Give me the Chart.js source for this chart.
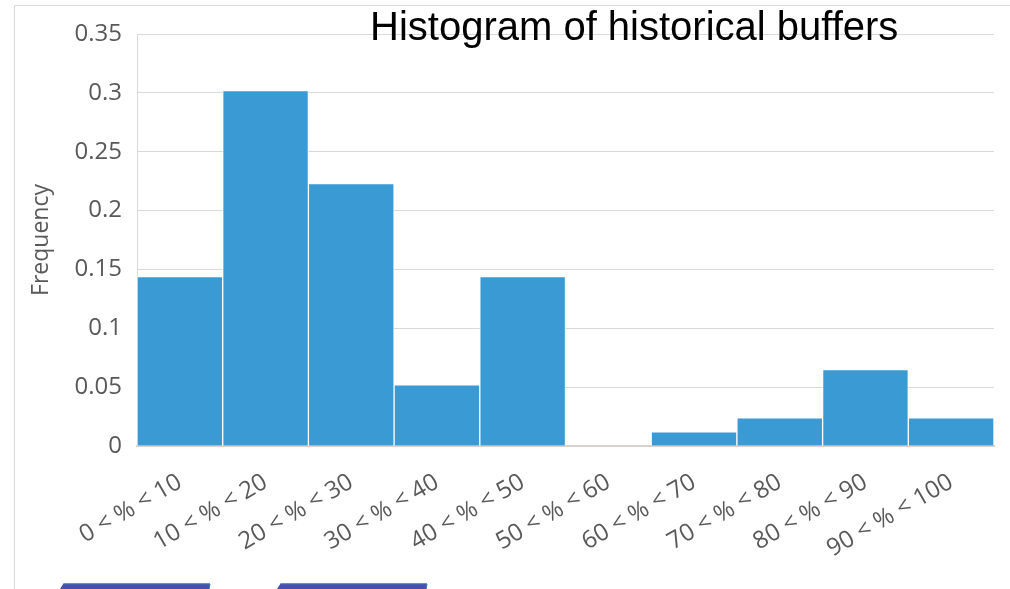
<!DOCTYPE html>
<html>
<head>
<meta charset="utf-8">
<script src="https://cdn.jsdelivr.net/npm/chart.js@4"></script>
<style>
  html, body { margin: 0; padding: 0; background: #ffffff; }
  #wrap { width: 1010px; height: 589px; position: relative; }
</style>
</head>
<body>
<div id="wrap"><canvas id="c" width="1010" height="589"></canvas></div>
<script>
const categories = ['0 < % < 10', '10 < % < 20', '20 < % < 30', '30 < % < 40', '40 < % < 50',
                    '50 < % < 60', '60 < % < 70', '70 < % < 80', '80 < % < 90', '90 < % < 100'];
const frequency = [0.144, 0.302, 0.223, 0.052, 0.144, 0, 0.012, 0.024, 0.065, 0.024];
const yTickLabels = ['0', '0.05', '0.1', '0.15', '0.2', '0.25', '0.3', '0.35'];
const chartTitle = 'Histogram of historical buffers';
const yAxisTitle = 'Frequency';

const decor = {
  id: 'decor',
  beforeDraw(chart) {
    const ctx = chart.ctx;
    ctx.save();
    ctx.fillStyle = '#ffffff';
    ctx.fillRect(0, 0, chart.width, chart.height);
    ctx.strokeStyle = '#d9d9d9';
    ctx.lineWidth = 1;
    ctx.beginPath();
    ctx.moveTo(14.5, 589);
    ctx.lineTo(14.5, 5.5);
    ctx.lineTo(1010, 5.5);
    ctx.stroke();
    ctx.restore();
  },
  afterDraw(chart) {
    const ctx = chart.ctx;
    ctx.save();
    ctx.font = '40px "Liberation Sans", Arial, sans-serif';
    ctx.fillStyle = '#000000';
    ctx.textAlign = 'left';
    ctx.textBaseline = 'alphabetic';
    ctx.fillText(chartTitle, 370, 40);
    // cropped blue shapes at the bottom edge
    const shapes = [[60, 210], [277, 427]];
    shapes.forEach(([a, b]) => {
      ctx.fillStyle = '#4750b2';
      ctx.beginPath();
      ctx.moveTo(a, 589);
      ctx.lineTo(a + 3.5, 583.5);
      ctx.lineTo(b, 583.5);
      ctx.lineTo(b - 1, 589);
      ctx.closePath();
      ctx.fill();
      ctx.strokeStyle = '#3d72a6';
      ctx.lineWidth = 1;
      ctx.beginPath();
      ctx.moveTo(a + 3.5, 584);
      ctx.lineTo(b, 584);
      ctx.lineTo(b - 1, 589);
      ctx.stroke();
    });
    ctx.restore();
  }
};

new Chart(document.getElementById('c'), {
  type: 'bar',
  data: {
    labels: categories,
    datasets: [{
      label: yAxisTitle,
      data: frequency,
      backgroundColor: '#3a9ad4',
      borderColor: 'rgba(255,255,255,0.85)',
      borderWidth: 1,
      borderSkipped: 'start',
      barPercentage: 1,
      categoryPercentage: 1
    }]
  },
  options: {
    responsive: false,
    animation: false,
    devicePixelRatio: 1,
    layout: { padding: { left: 0, top: 34, right: 16, bottom: 0 } },
    plugins: {
      legend: { display: false },
      title: { display: false },
      tooltip: { enabled: false }
    },
    scales: {
      x: {
        grid: { display: false, drawTicks: false },
        border: { display: true, color: '#d6d2cf', width: 2 },
        ticks: {
          autoSkip: false,
          maxRotation: 30,
          minRotation: 30,
          padding: 22,
          color: '#595959',
          font: { family: '"Open Sans", sans-serif', size: 24 }
        },
        afterFit(s) { s.height = 143; }
      },
      y: {
        min: 0,
        max: 0.35,
        ticks: {
          stepSize: 0.05,
          padding: 15,
          color: '#595959',
          font: { family: '"Open Sans", sans-serif', size: 24 },
          callback: (v, i) => yTickLabels[i]
        },
        grid: { color: '#d9d9d9', lineWidth: 1, drawTicks: false },
        border: { display: true, color: '#d9d9d9', width: 1 },
        title: {
          display: true,
          text: yAxisTitle,
          color: '#595959',
          font: { family: '"Open Sans", sans-serif', size: 23 },
          padding: { top: 28, bottom: 0 }
        },
        afterFit(s) { s.width = 137; }
      }
    }
  },
  plugins: [decor]
});
</script>
</body>
</html>
